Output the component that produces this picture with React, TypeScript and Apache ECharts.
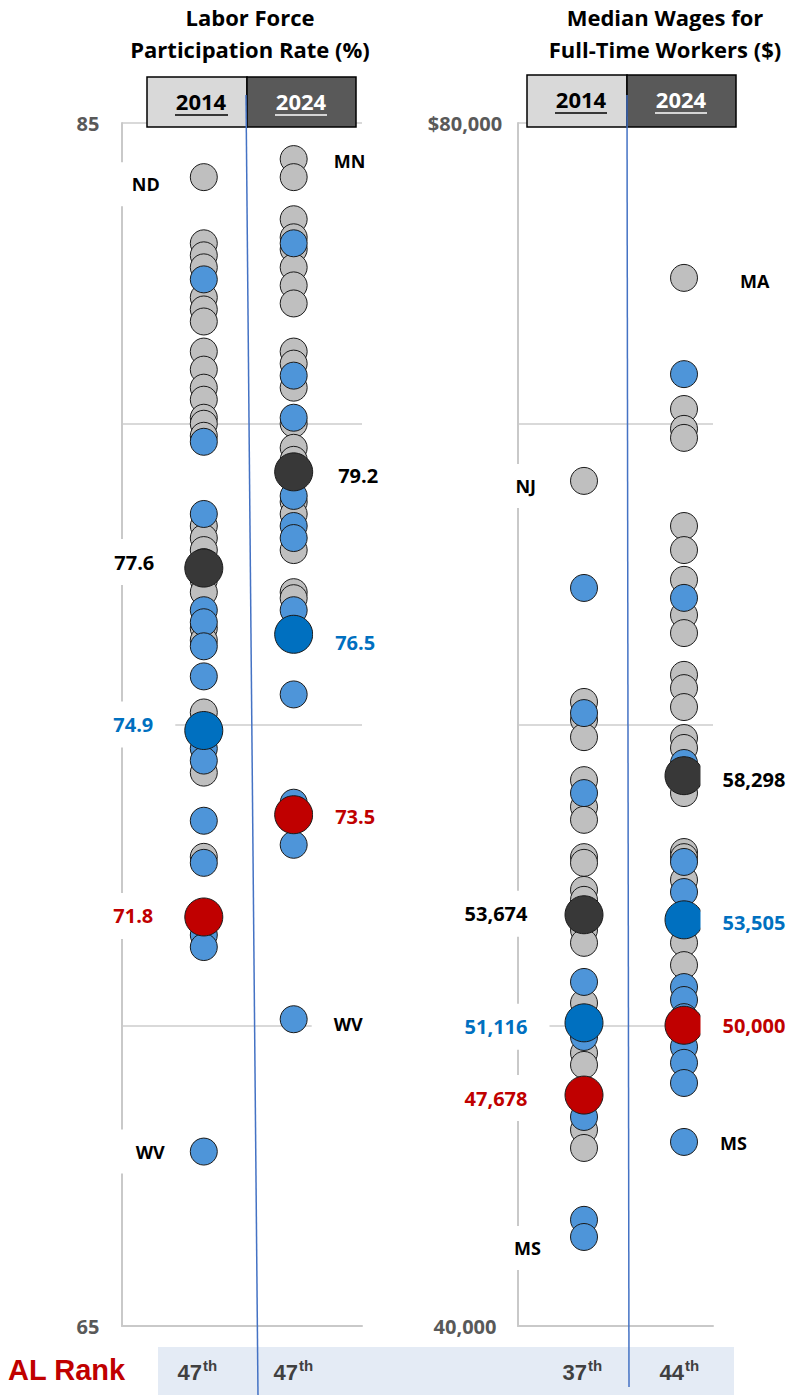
import React, { useEffect, useRef } from 'react';
import * as echarts from 'echarts';

// ---------- DATA ----------
const lfprTitle = ['Labor Force', 'Participation Rate (%)'];
const wageTitle = ['Median Wages for', 'Full-Time Workers ($)'];
const years = ['2014', '2024'];

const lfprAxisLabels: [number, string][] = [[65, '65'], [85, '85']];
const wageAxisLabels: [number, string][] = [[40000, '40,000'], [80000, '$80,000']];

// Labor force participation rate (%)
const lfpr2014Other = [84.1, 83.0, 82.8, 82.6, 82.1, 81.9, 81.7, 81.2, 80.9, 80.6, 80.4, 80.1, 80.0, 79.8, 78.3, 78.1, 77.9, 77.7, 77.4, 77.2, 76.6, 76.4, 75.2, 74.2, 72.8];
const lfpr2014South = [82.4, 79.7, 78.5, 76.9, 76.7, 76.3, 75.8, 74.6, 74.4, 73.4, 72.7, 71.5, 71.3, 67.9];
const lfpr2024Other = [84.4, 84.1, 83.4, 83.1, 82.9, 82.6, 82.3, 82.0, 81.2, 81.0, 80.6, 80.0, 79.6, 79.4, 78.7, 78.5, 77.9, 77.2, 77.1];
const lfpr2024South = [83.0, 80.8, 80.1, 78.8, 78.3, 78.1, 76.9, 75.5, 73.7, 73.0, 70.1];
const lfprUS = [77.6, 79.2];
const lfprSouthAvg = [74.9, 76.5];
const lfprAL = [71.8, 73.5];
const lfprUSText = ['77.6', '79.2'];
const lfprSouthText = ['74.9', '76.5'];
const lfprALText = ['71.8', '73.5'];
const lfprTopStates = ['ND', 'MN'];
const lfprBottomStates = ['WV', 'WV'];

// Median wages for full-time workers ($)
const wage2014Other = [68100, 60750, 60150, 59580, 58150, 57260, 56830, 55590, 55400, 54500, 54170, 53170, 52740, 50740, 49080, 48680, 46520, 45920];
const wage2014South = [64540, 60380, 57720, 51440, 49610, 46950, 43530, 42960];
const wage2024Other = [74850, 70490, 69830, 69530, 66600, 65800, 64810, 63640, 63040, 61650, 61210, 60580, 59550, 59220, 57720, 55760, 55590, 54830, 52740, 52000];
const wage2024South = [71650, 64210, 58720, 55430, 54430, 51270, 50840, 50270, 49280, 48750, 48080, 46120];
const wageUS = [53674, 58298];
const wageSouthAvg = [50080, 53505];
const wageAL = [47678, 50000];
const wageUSText = ['53,674', '58,298'];
const wageSouthText = ['51,116', '53,505'];
const wageALText = ['47,678', '50,000'];
const wageTopStates = ['NJ', 'MA'];
const wageBottomStates = ['MS', 'MS'];

const rankLabel = 'AL Rank';
const alRankNums = ['47', '47', '37', '44'];
const alRankSuffix = ['th', 'th', 'th', 'th'];

// ---------- STYLE / LAYOUT ----------
const FONT = '"Open Sans", Lato, sans-serif';
const COLORS = {
  other: '#bfbfbf',
  south: '#4e95d9',
  us: '#383838',
  southAvg: '#0070c0',
  al: '#c00000',
};
// [distance, dy] per panel / year
const STATE_LBL = [
  { top: [[8, 7], [4, 2]], bottom: [[3, 0], [4, 5]] },
  { top: [[12, 5], [20, 3]], bottom: [[7, 11], [0, 1]] },
];
const VALUE_LBL: any[] = [
  { us: [[8, -6], [3, 4]], southAvg: [[9, -6], [0, 8]], al: [[9, -1], [0, 2]] },
  { us: [[15, -1], [-3, 4]], southAvg: [[15, 4], [-3, 3]], al: [[15, 3], [-3, 0]] },
];
const VALUE_COLORS: any = { us: '#000000', southAvg: '#0070c0', al: '#c00000' };

function labelStyle(text: string, color: string, side: string, distance: number, dy: number, size: number) {
  return {
    show: true,
    formatter: () => text,
    position: side,
    distance,
    offset: [0, dy],
    color,
    fontFamily: FONT,
    fontWeight: 'bold',
    fontSize: size,
    backgroundColor: '#ffffff',
    padding: [13, 22],
  };
}

function buildOption() {
  const panels: any[] = [
    {
      others: [lfpr2014Other, lfpr2024Other],
      souths: [lfpr2014South, lfpr2024South],
      us: lfprUS, southAvg: lfprSouthAvg, al: lfprAL,
      usText: lfprUSText, southAvgText: lfprSouthText, alText: lfprALText,
      top: lfprTopStates, bottom: lfprBottomStates,
    },
    {
      others: [wage2014Other, wage2024Other],
      souths: [wage2014South, wage2024South],
      us: wageUS, southAvg: wageSouthAvg, al: wageAL,
      usText: wageUSText, southAvgText: wageSouthText, alText: wageALText,
      top: wageTopStates, bottom: wageBottomStates,
    },
  ];

  const series: any[] = [];
  panels.forEach((p, pi) => {
    const grayData: any[] = [];
    const blueData: any[] = [];
    [0, 1].forEach((yi) => {
      const all = p.others[yi].concat(p.souths[yi]);
      const maxV = Math.max(...all);
      const minV = Math.min(...all);
      let topDone = false;
      let botDone = false;
      const side = yi === 0 ? 'left' : 'right';
      const mk = (v: number) => {
        const item: any = { value: [yi + 1, v] };
        if (v === maxV && !topDone) {
          topDone = true;
          const [d, dy] = STATE_LBL[pi].top[yi];
          item.label = labelStyle(p.top[yi], '#000000', side, d, dy, 18);
        } else if (v === minV && !botDone) {
          botDone = true;
          const [d, dy] = STATE_LBL[pi].bottom[yi];
          item.label = labelStyle(p.bottom[yi], '#000000', side, d, dy, 18);
        }
        return item;
      };
      p.others[yi].forEach((v: number) => grayData.push(mk(v)));
      p.souths[yi].forEach((v: number) => blueData.push(mk(v)));
    });
    series.push({
      type: 'scatter', xAxisIndex: pi, yAxisIndex: pi, symbol: 'circle', symbolSize: 27,
      itemStyle: { color: COLORS.other, borderColor: '#1a1a1a', borderWidth: 1, opacity: 1 },
      label: { show: false }, data: grayData, z: 2,
    });
    series.push({
      type: 'scatter', xAxisIndex: pi, yAxisIndex: pi, symbol: 'circle', symbolSize: 27,
      itemStyle: { color: COLORS.south, borderColor: '#1a1a1a', borderWidth: 1, opacity: 1 },
      label: { show: false }, data: blueData, z: 3,
    });
    ['us', 'southAvg', 'al'].forEach((kind) => {
      series.push({
        type: 'scatter', xAxisIndex: pi, yAxisIndex: pi, symbol: 'circle', symbolSize: 38,
        itemStyle: { color: (COLORS as any)[kind], borderColor: '#1a1a1a', borderWidth: 1, opacity: 1 },
        data: [0, 1].map((yi) => {
          const [d, dy] = VALUE_LBL[pi][kind][yi];
          return {
            value: [yi + 1, p[kind][yi]],
            label: labelStyle(p[kind + 'Text'][yi], VALUE_COLORS[kind], yi === 0 ? 'left' : 'right', d, dy, 20),
          };
        }),
        z: 4,
      });
    });
  });

  const axisLine = { show: true, onZero: false, lineStyle: { color: '#c9c9c9', width: 2 } };
  const mkYAxis = (gi: number, min: number, max: number, interval: number, labels: [number, string][], margin: number) => ({
    gridIndex: gi, type: 'value', min, max, interval,
    axisLine, axisTick: { show: false },
    splitLine: { show: true, lineStyle: { color: '#d9d9d9', width: 2 } },
    axisLabel: {
      formatter: (v: number) => {
        const f = labels.find((l) => l[0] === v);
        return f ? f[1] : '';
      },
      align: 'center', margin, color: '#595959', fontFamily: FONT, fontWeight: 'bold', fontSize: 20,
    },
  });
  const mkXAxis = (gi: number, min: number, max: number) => ({
    gridIndex: gi, type: 'value', min, max,
    axisLine, axisTick: { show: false }, axisLabel: { show: false }, splitLine: { show: false },
  });

  const txt = (text: string, x: number, y: number, font: string, fill: string, align = 'center', z = 12) => ({
    type: 'text', x, y, z,
    style: { text, font, fill, align, textAlign: align, verticalAlign: 'middle', textVerticalAlign: 'middle' },
  });
  const line = (x1: number, y1: number, x2: number, y2: number, stroke: string, w: number, z = 12) => ({
    type: 'line', z, shape: { x1, y1, x2, y2 }, style: { stroke, lineWidth: w },
  });
  const rect = (x: number, y: number, width: number, height: number, fill: string, stroke: string | null, z = 10) => ({
    type: 'rect', z, shape: { x, y, width, height },
    style: stroke ? { fill, stroke, lineWidth: 1.5 } : { fill },
  });

  const titleFont = `bold 22px ${FONT}`;
  const yearFont = `bold 22px ${FONT}`;
  const rankFont = 'bold 22px "Liberation Sans", Arial, sans-serif';
  const rankSupFont = 'bold 15px "Liberation Sans", Arial, sans-serif';
  const rankRight = [202, 298, 587, 684];

  const graphic: any[] = [
    // titles
    txt(lfprTitle[0], 250, 17, titleFont, '#000'),
    txt(lfprTitle[1], 250, 49, titleFont, '#000'),
    txt(wageTitle[0], 665, 17, titleFont, '#000'),
    txt(wageTitle[1], 665, 49, titleFont, '#000'),
    // header boxes
    rect(147, 77, 100, 50, '#d9d9d9', '#000'),
    rect(247, 77, 109, 50, '#595959', '#000'),
    rect(527, 75, 100, 52, '#d9d9d9', '#000'),
    rect(627, 75, 109, 52, '#595959', '#000'),
    txt(years[0], 201, 101, yearFont, '#000'),
    line(175, 115, 228, 115, '#000', 1.5),
    txt(years[1], 301, 101, yearFont, '#fff'),
    line(275, 115, 327, 115, '#fff', 1.5),
    txt(years[0], 581, 99, yearFont, '#000'),
    line(555, 113, 607, 113, '#000', 1.5),
    txt(years[1], 681, 99, yearFont, '#fff'),
    line(655, 113, 707, 113, '#fff', 1.5),
    // rank band
    rect(158, 1347, 576, 48, '#e4ebf5', null, 5),
    txt(rankLabel, 8, 1370, 'bold 29px "Liberation Sans", Arial, sans-serif', '#c00000', 'left'),
  ];
  alRankNums.forEach((n, i) => {
    graphic.push(txt(n, rankRight[i], 1372, rankFont, '#404040', 'right'));
    graphic.push(txt(alRankSuffix[i], rankRight[i] + 1, 1365, rankSupFont, '#404040', 'left'));
  });
  // separator lines
  graphic.push(line(246, 95, 258, 1395, '#4472c4', 1.5, 20));
  graphic.push(line(627, 95, 629, 1387, '#4472c4', 1.5, 20));

  return {
    animation: false,
    backgroundColor: '#ffffff',
    grid: [
      { left: 122, top: 123, width: 240, height: 1203 },
      { left: 518, top: 123, width: 195, height: 1203 },
    ],
    xAxis: [mkXAxis(0, 0.09, 2.76), mkXAxis(1, 0.34, 2.29)],
    yAxis: [
      mkYAxis(0, 65, 85, 5, lfprAxisLabels, 34),
      mkYAxis(1, 40000, 80000, 10000, wageAxisLabels, 53),
    ],
    series,
    graphic,
  };
}

export default function App() {
  const ref = useRef<HTMLDivElement>(null);
  useEffect(() => {
    document.body.style.margin = '0';
    const chart = echarts.init(ref.current as HTMLDivElement, null, { renderer: 'svg' });
    chart.setOption(buildOption() as any);
    return () => chart.dispose();
  }, []);
  return (
    <div
      ref={ref}
      style={{ position: 'absolute', left: 0, top: 0, width: 788, height: 1395, background: '#fff' }}
    />
  );
}
